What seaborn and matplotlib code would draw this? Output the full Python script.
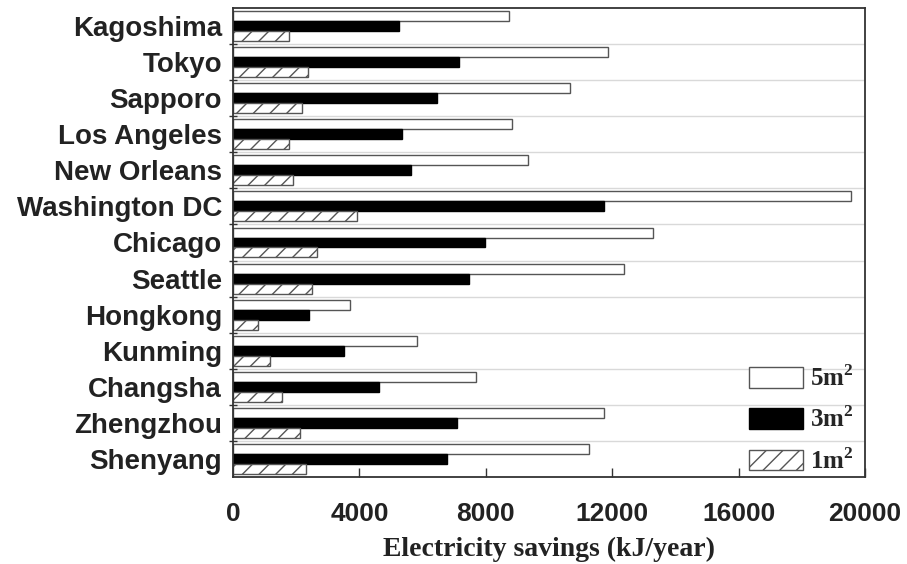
import numpy as np
import pandas as pd
import seaborn as sns
import matplotlib
matplotlib.use("Agg")
import matplotlib.pyplot as plt
from matplotlib.ticker import FixedLocator

# Electricity savings per city for three collector areas (kJ/year)
cities = ["Kagoshima", "Tokyo", "Sapporo", "Los Angeles", "New Orleans",
          "Washington DC", "Chicago", "Seattle", "Hongkong", "Kunming",
          "Changsha", "Zhengzhou", "Shenyang"]
area_labels = ["5m$^\\mathbf{2}$", "3m$^\\mathbf{2}$", "1m$^\\mathbf{2}$"]
savings_5m2 = [8730, 11880, 10670, 8840, 9350, 19550, 13280, 12380, 3700, 5830, 7690, 11750, 11260]
savings_3m2 = [5250, 7150, 6450, 5340, 5620, 11740, 7980, 7470, 2400, 3510, 4630, 7080, 6760]
savings_1m2 = [1780, 2360, 2170, 1780, 1890, 3930, 2670, 2490, 780, 1170, 1540, 2110, 2310]
x_ticks = [0, 4000, 8000, 12000, 16000, 20000]

df = pd.DataFrame({
    "city": cities * 3,
    "area": [a for a in area_labels for _ in cities],
    "savings": savings_5m2 + savings_3m2 + savings_1m2,
})

sns.set_theme(style="white")
plt.rcParams["hatch.linewidth"] = 1.0
plt.rcParams["hatch.color"] = "#555555"
plt.rcParams["mathtext.fontset"] = "custom"
plt.rcParams["mathtext.rm"] = "Liberation Serif:bold"
plt.rcParams["mathtext.bf"] = "Liberation Serif:bold"

fig = plt.figure(figsize=(9.07, 5.64), dpi=100)
ax = fig.add_axes([233 / 907, 1 - 477 / 564, 632 / 907, 469 / 564])

sns.barplot(data=df, y="city", x="savings", hue="area", order=cities,
            hue_order=area_labels, palette=["white", "black", "white"],
            orient="h", width=0.83, edgecolor="#555555", linewidth=1.0,
            saturation=1, ax=ax, legend=False)

# style each series: open, solid, hatched
for cont, (fc, ec, hatch) in zip(ax.containers,
                                 [("white", "#555555", None),
                                  ("black", "black", None),
                                  ("white", "#555555", "//")]):
    for p in cont:
        p.set_facecolor(fc)
        p.set_edgecolor(ec)
        if hatch:
            p.set_hatch(hatch)
    cont.set_label("")

ax.set_xlim(0, 20000)
ax.set_ylim(len(cities) - 0.5, -0.5)
ax.set_xticks(x_ticks)
ax.set_xticklabels([str(t) for t in x_ticks])

# category separators
bounds = np.arange(0.5, len(cities) - 0.5, 1.0)
ax.yaxis.set_minor_locator(FixedLocator(bounds))
for b in bounds:
    ax.axhline(b, color="#d9d9d9", lw=1.0, zorder=0)

bold_sans = {"family": "Liberation Sans", "weight": "bold"}
ax.set_yticks(range(len(cities)))
ax.set_yticklabels(cities, fontdict=bold_sans, fontsize=20, color="#222222")
for lab in ax.get_xticklabels():
    lab.set_fontfamily("Liberation Sans")
    lab.set_fontweight("bold")
    lab.set_fontsize(19)
    lab.set_color("#222222")

ax.tick_params(axis="y", which="major", length=0, pad=8)
ax.tick_params(axis="y", which="minor", direction="inout", length=6,
               width=1.0, color="#333333", left=True)
ax.tick_params(axis="x", which="major", direction="in", length=6.5,
               width=1.0, color="#333333", pad=18, bottom=True)

ax.set_ylabel("")
ax.set_xlabel("Electricity savings (kJ/year)", fontfamily="Liberation Serif",
              fontweight="bold", fontsize=20, color="#222222", labelpad=8)

for s in ax.spines.values():
    s.set_visible(True)
    s.set_color("#333333")
    s.set_linewidth(1.3)

handles = [ax.containers[i][0] for i in range(3)]
leg = ax.legend(handles, area_labels, loc="lower right", frameon=False,
                bbox_to_anchor=(0.986, 0.002),
                prop={"family": "Liberation Serif", "weight": "bold", "size": 18},
                handlelength=2.15, handleheight=0.9, handletextpad=0.3,
                labelspacing=0.62, borderpad=0.1, borderaxespad=0.0)

fig.savefig("out.png", dpi=100, facecolor="white")
